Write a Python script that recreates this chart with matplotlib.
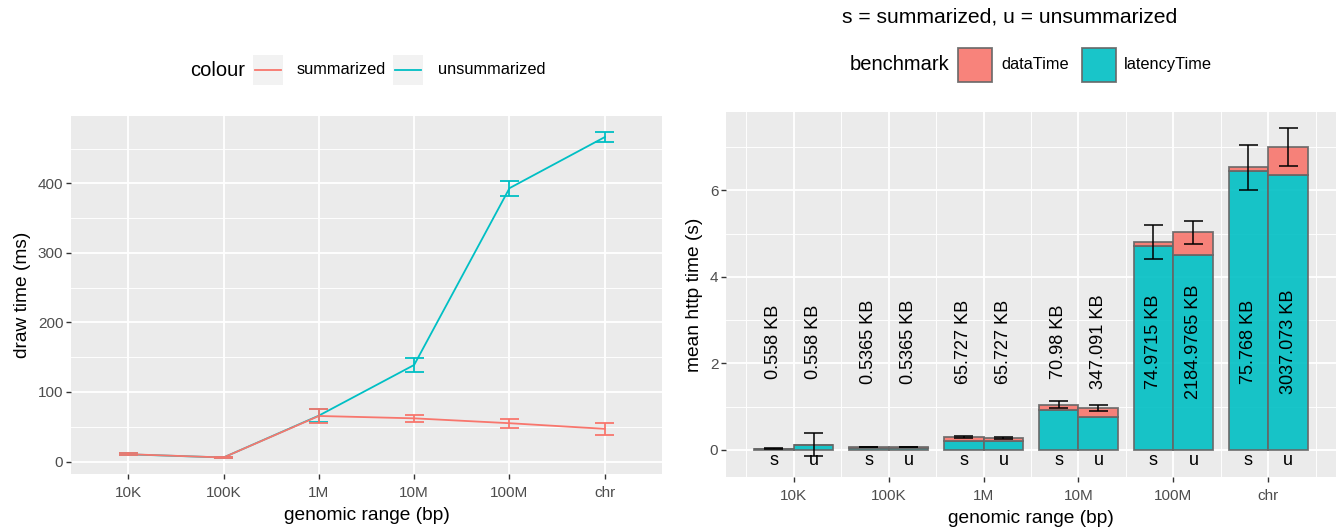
import numpy as np
import matplotlib.pyplot as plt
from matplotlib.patches import Rectangle
from matplotlib.lines import Line2D

plt.rcParams['font.family'] = ['Liberation Sans', 'DejaVu Sans']

W, H = 1336, 531

ranges = ["10K", "100K", "1M", "10M", "100M", "chr"]

# left panel: draw time (ms), mean and error half width
draw_summ = [10.5, 5.8, 65.5, 62.1, 55.1, 47.0]
draw_summ_err = [1.5, 1.0, 10.0, 4.9, 6.5, 8.6]
draw_unsumm = [10.3, 5.8, 66.0, 138.9, 393.2, 466.7]
draw_unsumm_err = [1.5, 1.0, 9.6, 9.7, 10.7, 7.0]

# right panel: mean http time (s)
latency_s = [0.02, 0.05, 0.21, 0.93, 4.72, 6.46]
data_s = [0.01, 0.02, 0.09, 0.12, 0.08, 0.08]
err_s = [0.01, 0.01, 0.02, 0.08, 0.39, 0.52]
latency_u = [0.11, 0.05, 0.20, 0.76, 4.51, 6.36]
data_u = [0.015, 0.02, 0.08, 0.22, 0.52, 0.64]
err_u = [0.265, 0.01, 0.02, 0.07, 0.26, 0.44]
size_s = ["0.558 KB", "0.5365 KB", "65.727 KB", "70.98 KB", "74.9715 KB", "75.768 KB"]
size_u = ["0.558 KB", "0.5365 KB", "65.727 KB", "347.091 KB", "2184.9765 KB", "3037.073 KB"]

RED = "#F8766D"
CYAN = "#00BFC4"
TICK_FS = 11
AXT_FS = 13.8
LEG_T_FS = 14.5
LEG_FS = 11.8
BAR_FS = 13.1


def fx(x):
    return x / W


def fy(y):
    return 1 - y / H


def px_axes(fig, x0, y0, x1, y1):
    return fig.add_axes([fx(x0), fy(y1), (x1 - x0) / W, (y1 - y0) / H])


def gg_style(ax):
    ax.set_facecolor("#EBEBEB")
    for s in ax.spines.values():
        s.set_visible(False)
    ax.set_axisbelow(True)
    ax.grid(which="major", color="white", lw=1.3)
    ax.grid(which="minor", color="white", lw=0.65)
    ax.tick_params(which="major", length=3.3, width=1.0, color="#333333",
                   labelcolor="#4D4D4D", labelsize=TICK_FS, pad=2.2)
    ax.tick_params(which="minor", length=0)


fig = plt.figure(figsize=(W / 100, H / 100), dpi=100)

# ---------------- left: draw time ----------------
ax1 = px_axes(fig, 71, 116, 662, 474.3)
gg_style(ax1)
x = np.arange(1, len(ranges) + 1)
ax1.plot(x, draw_unsumm, color=CYAN, lw=1.3, zorder=3)
ax1.plot(x, draw_summ, color=RED, lw=1.3, zorder=3)
for vals, errs, c in [(draw_unsumm, draw_unsumm_err, CYAN), (draw_summ, draw_summ_err, RED)]:
    v = np.array(vals)
    e = np.array(errs)
    ax1.vlines(x, v - e, v + e, color=c, lw=1.3, zorder=4)
    ax1.hlines(v - e, x - 0.1, x + 0.1, color=c, lw=1.3, zorder=4)
    ax1.hlines(v + e, x - 0.1, x + 0.1, color=c, lw=1.3, zorder=4)
ax1.set_xlim(0.4, 6.6)
ax1.set_ylim(-18.4, 497)
ax1.set_xticks(x)
ax1.set_xticklabels(ranges)
ax1.set_yticks([0, 100, 200, 300, 400])
ax1.set_yticks([50, 150, 250, 350, 450], minor=True)
ax1.grid(which="minor", axis="x", visible=False)
ax1.tick_params(axis="x", pad=5)
ax1.set_xlabel("genomic range (bp)", fontsize=AXT_FS, labelpad=5)
ax1.set_ylabel("draw time (ms)", fontsize=AXT_FS, labelpad=5)

# left legend
fig.text(fx(190), fy(70), "colour", fontsize=LEG_T_FS, va="center", ha="left")
for kx, c, lab, lx in [(253, RED, "summarized", 297), (393, CYAN, "unsummarized", 438)]:
    fig.patches.append(Rectangle((fx(kx), fy(85)), 30 / W, 30 / H, transform=fig.transFigure,
                                 facecolor="#F2F2F2", edgecolor="none"))
    fig.lines.append(Line2D([fx(kx + 2), fx(kx + 28)], [fy(70), fy(70)],
                            transform=fig.transFigure, color=c, lw=1.3))
    fig.text(fx(lx), fy(70), lab, fontsize=LEG_FS, va="center", ha="left")

# ---------------- right: http time ----------------
ax2 = px_axes(fig, 726, 112, 1336, 477.4)
gg_style(ax2)
bw = 0.42
xs = x - bw / 2
xu = x + bw / 2
for xp, lat, dat in [(xs, latency_s, data_s), (xu, latency_u, data_u)]:
    ax2.bar(xp, lat, width=bw, color=CYAN, alpha=0.9, edgecolor="#666666", lw=1.3, zorder=2)
    ax2.bar(xp, dat, bottom=lat, width=bw, color=RED, alpha=0.9, edgecolor="#666666", lw=1.3, zorder=2)
for xp, lat, dat, err in [(xs, latency_s, data_s, err_s), (xu, latency_u, data_u, err_u)]:
    tot = np.array(lat) + np.array(dat)
    e = np.array(err)
    ax2.vlines(xp, tot - e, tot + e, color="black", lw=1.1, zorder=4)
    ax2.hlines(tot - e, xp - 0.1, xp + 0.1, color="black", lw=1.1, zorder=4)
    ax2.hlines(tot + e, xp - 0.1, xp + 0.1, color="black", lw=1.1, zorder=4)
for xp, labs, letter in [(xs, size_s, "s"), (xu, size_u, "u")]:
    for xi, lab in zip(xp, labs):
        ax2.text(xi, 2.5, lab, rotation=90, ha="center", va="center", fontsize=BAR_FS, zorder=5)
        ax2.text(xi, -0.25, letter, ha="center", va="center", fontsize=BAR_FS, zorder=5)
ax2.set_xlim(0.288, 6.712)
ax2.set_ylim(-0.634, 7.814)
ax2.set_xticks(x)
ax2.set_xticklabels(ranges)
ax2.set_xticks(np.arange(0.5, 7, 1), minor=True)
ax2.set_yticks([0, 2, 4, 6])
ax2.set_yticks([1, 3, 5, 7], minor=True)
ax2.tick_params(axis="x", pad=5)
ax2.set_xlabel("genomic range (bp)", fontsize=AXT_FS, labelpad=5)
ax2.set_ylabel("mean http time (s)", fontsize=AXT_FS, labelpad=5)

fig.text(fx(1010), fy(17), "s = summarized, u = unsummarized", fontsize=15.2, ha="center", va="center")

# right legend
fig.text(fx(850), fy(65), "benchmark", fontsize=LEG_T_FS, va="center", ha="left")
for kx, c, lab, lx in [(958, RED, "dataTime", 1001), (1082, CYAN, "latencyTime", 1124)]:
    fig.patches.append(Rectangle((fx(kx), fy(82)), 34 / W, 34 / H, transform=fig.transFigure,
                                 facecolor=c, alpha=0.9, edgecolor="#666666", lw=1.3))
    fig.text(fx(lx), fy(65), lab, fontsize=LEG_FS, va="center", ha="left")

fig.savefig("out.png", dpi=100)
